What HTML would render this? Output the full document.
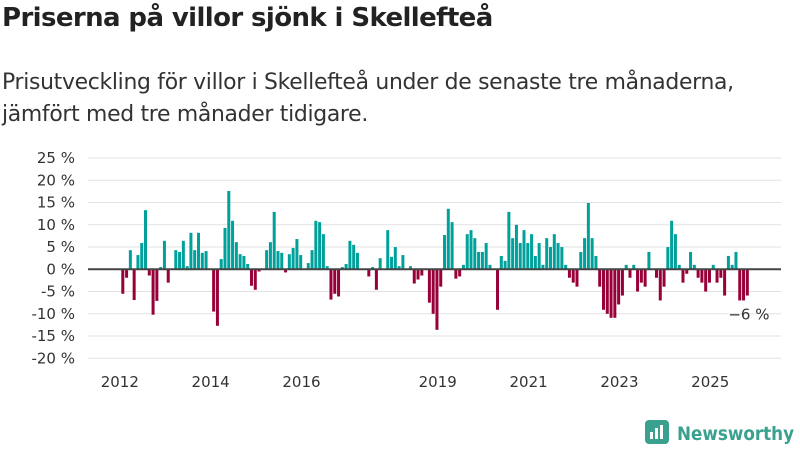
<!DOCTYPE html>
<html><head><meta charset="utf-8"><style>
body{margin:0;width:800px;height:450px;background:#fff;font-family:"Liberation Sans","DejaVu Sans",sans-serif;overflow:hidden;position:relative}
#title{position:absolute;left:2px;top:3px;font-size:26px;font-weight:bold;color:#222;font-family:"DejaVu Sans",sans-serif;letter-spacing:-0.6px}
#sub{position:absolute;left:2px;top:67px;font-size:21.9px;line-height:32px;color:#333;font-family:"DejaVu Sans",sans-serif;letter-spacing:-0.3px}
svg{position:absolute;left:0;top:0}
</style></head><body>
<div id="title">Priserna på villor sjönk i Skellefteå</div>
<div id="sub">Prisutveckling för villor i Skellefteå under de senaste tre månaderna,<br>jämfört med tre månader tidigare.</div>
<svg id="c" width="800" height="450"></svg>
<script>
const values=[-5.5,-1.9,4.3,-6.9,3.2,5.9,13.3,-1.4,-10.2,-7.1,0.5,6.4,-3.0,0,4.3,3.9,6.4,0.7,8.2,4.3,8.2,3.7,4.1,0,-9.5,-12.7,2.3,9.3,17.6,10.9,6.1,3.4,3.0,1.2,-3.7,-4.6,-0.5,0,4.3,6.1,12.9,4.1,
3.7,-0.7,3.4,4.8,6.8,3.2,0,1.4,4.3,10.9,10.6,7.9,0.7,-6.8,-5.5,-6.1,0.5,1.2,6.4,5.5,3.7,0,0,-1.6,0.5,-4.6,2.5,0,8.8,2.8,5.0,0.7,3.2,0,0.7,-3.2,-2.3,-1.4,0,-7.5,-10.0,-13.6,-3.9,
7.7,13.6,10.6,-2.1,-1.6,1.0,7.9,8.8,7.0,3.9,3.9,5.9,1.0,0,-9.1,3.0,1.9,12.9,7.0,10.0,5.9,8.8,5.9,7.9,3.0,5.9,1.0,7.0,5.0,7.9,5.9,5.0,1.0,-1.9,-3.0,-3.9,3.9,7.0,14.9,7.0,3.0,-3.9,
-9.1,-10.0,-10.9,-10.9,-7.9,-5.9,1.0,-1.9,1.0,-5.0,-3.0,-3.9,3.9,0,-1.9,-7.0,-3.9,5.0,10.9,7.9,1.0,-3.0,-1.0,3.9,1.0,-1.9,-3.0,-5.0,-3.0,1.0,-3.0,-1.9,-5.9,3.0,1.0,3.9,-7.0,-7.0,-5.9];
const yTicks=[25,20,15,10,5,0,-5,-10,-15,-20];
const yearLabels=[2012,2014,2016,2019,2021,2023,2025];
const startYear=2012;
const lastLabel="−6 %";
const NS="http://www.w3.org/2000/svg";
const svg=document.getElementById('c');
function y(v){return 269.3-v*4.45;}
function x(i){return 122.8+i*3.785;}
function mk(t,a){const e=document.createElementNS(NS,t);for(const k in a)e.setAttribute(k,a[k]);svg.appendChild(e);return e;}
yTicks.forEach(t=>{
 const g=mk('line',{x1:88,x2:781,y1:y(t),y2:y(t),stroke:'#e2e2e2','stroke-width':1});
 
 
 const l=mk('text',{x:75,y:y(t)+5,'text-anchor':'end','font-size':15,fill:'#333','font-family':'DejaVu Sans, sans-serif'});
 l.textContent=(t<0?'-':'')+Math.abs(t)+' %';
 
 
});
values.forEach((v,i)=>{
 const r=mk('rect',{x:x(i)-1.5,y:Math.min(y(v),y(0)),width:3,height:Math.abs(y(v)-y(0)),fill:v>=0?'#00a19a':'#970038'});
 
 
});
const base=mk('line',{x1:88,x2:781,y1:y(0),y2:y(0),stroke:'#444','stroke-width':2});


yearLabels.forEach(yr=>{
 const t=mk('text',{x:x((yr-startYear)*12)-3,y:387,'text-anchor':'middle','font-size':15,fill:'#333','font-family':'DejaVu Sans, sans-serif'});
 t.textContent=yr;
 
 
});
const lv=values[values.length-1];
const lab=mk('text',{x:x(values.length-1)-19,y:y(lv)+24,'font-size':15,fill:'#333','font-family':'DejaVu Sans, sans-serif'});
lab.textContent=lastLabel;


</script>
<svg width="800" height="450" style="pointer-events:none">
 <rect x="645" y="420" width="24" height="24" rx="4" fill="#3aa18f"/>
 <rect x="650" y="432" width="3" height="7" fill="#fff"/><rect x="655" y="428" width="3" height="11" fill="#fff"/><rect x="660" y="425" width="3" height="14" fill="#fff"/>
 <text x="677" y="440" font-size="19" font-weight="bold" fill="#3aa18f" font-family="DejaVu Sans, sans-serif" textLength="117" lengthAdjust="spacingAndGlyphs">Newsworthy</text>
</svg>
</body></html>
